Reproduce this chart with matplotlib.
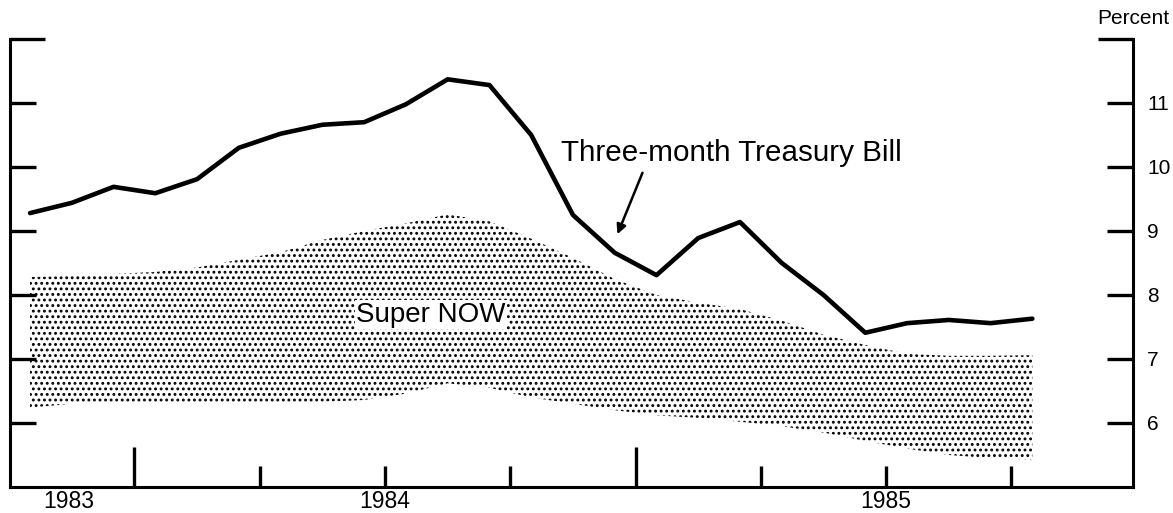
import numpy as np
import matplotlib
matplotlib.use('Agg')
from matplotlib import pyplot as plt

# 月次データ（1983年4月 = 0）
months = np.arange(25)
tbill = [9.28, 9.44, 9.69, 9.59, 9.81, 10.30, 10.52, 10.66, 10.70, 10.98,
         11.37, 11.28, 10.50, 9.25, 8.66, 8.31, 8.89, 9.14, 8.50, 8.00,
         7.41, 7.56, 7.61, 7.56, 7.63]
now_high = [8.28, 8.30, 8.33, 8.36, 8.43, 8.55, 8.67, 8.86, 9.00, 9.12,
            9.26, 9.15, 8.88, 8.58, 8.25, 8.00, 7.88, 7.78, 7.60, 7.38,
            7.22, 7.08, 7.05, 7.05, 7.06]
now_low = [6.24, 6.30, 6.30, 6.30, 6.30, 6.30, 6.32, 6.33, 6.36, 6.46,
           6.62, 6.55, 6.40, 6.30, 6.20, 6.12, 6.08, 6.02, 5.95, 5.85,
           5.72, 5.60, 5.50, 5.45, 5.42]

yticks = [6, 7, 8, 9, 10, 11]
long_xticks = [2.5, 14.5]
short_xticks = [5.5, 8.5, 11.5, 17.5, 20.5, 23.5]
year_pos = [0.93, 8.5, 20.5]
year_labels = ['1983', '1984', '1985']

plt.rcParams['font.family'] = ['Liberation Sans', 'DejaVu Sans']
plt.rcParams['hatch.linewidth'] = 1.3

fig = plt.figure(figsize=(11.73, 5.13), dpi=100)
ax = fig.add_axes([10 / 1173, 26 / 513, 1123 / 1173, 448 / 513])

# Super NOW の範囲（点描）
ax.fill_between(months, now_low, now_high, facecolor='none', edgecolor='black',
                linewidth=0, hatch='...')
# 3か月物TB
ax.plot(months, tbill, color='black', linewidth=3.3, solid_joinstyle='round',
        solid_capstyle='round')

ax.set_xlim(-0.48, 26.41)
ax.set_ylim(5, 12)

# 枠線
ax.spines['top'].set_visible(False)
for s in ['left', 'right', 'bottom']:
    ax.spines[s].set_linewidth(2.2)

# 縦軸目盛
ax.set_yticks(yticks)
ax.set_yticks([12], minor=True)
ax.yaxis.set_ticks_position('both')
ax.tick_params(axis='y', which='major', direction='in', length=19, width=2.4,
               labelleft=False, labelright=True, labelsize=15, pad=10)
ax.tick_params(axis='y', which='minor', direction='in', length=25, width=2.4,
               labelleft=False, labelright=False)

# 横軸目盛
ax.set_xticks(long_xticks)
ax.set_xticks(short_xticks, minor=True)
ax.tick_params(axis='x', which='major', direction='in', length=29, width=2.4,
               labelbottom=False)
ax.tick_params(axis='x', which='minor', direction='in', length=15, width=2.4,
               labelbottom=False)
for p, lab in zip(year_pos, year_labels):
    ax.text(p, -0.046, lab, transform=ax.get_xaxis_transform(), ha='center',
            va='baseline', fontsize=16.5)

ax.text(1.0, 1.025, 'Percent', transform=ax.transAxes, ha='center',
        va='bottom', fontsize=15)

ax.text(16.8, 10.09, 'Three-month Treasury Bill', ha='center',
        va='baseline', fontsize=21.3)
ax.annotate('', xy=(14.04, 8.91), xytext=(14.69, 9.95),
            arrowprops=dict(arrowstyle='-|>', color='black', lw=1.8,
                            mutation_scale=14))
ax.text(9.6, 7.58, 'Super NOW', ha='center', va='baseline', fontsize=20,
        bbox=dict(facecolor='white', edgecolor='none', pad=1))

fig.savefig('out.png', dpi=100)
plt.close()
